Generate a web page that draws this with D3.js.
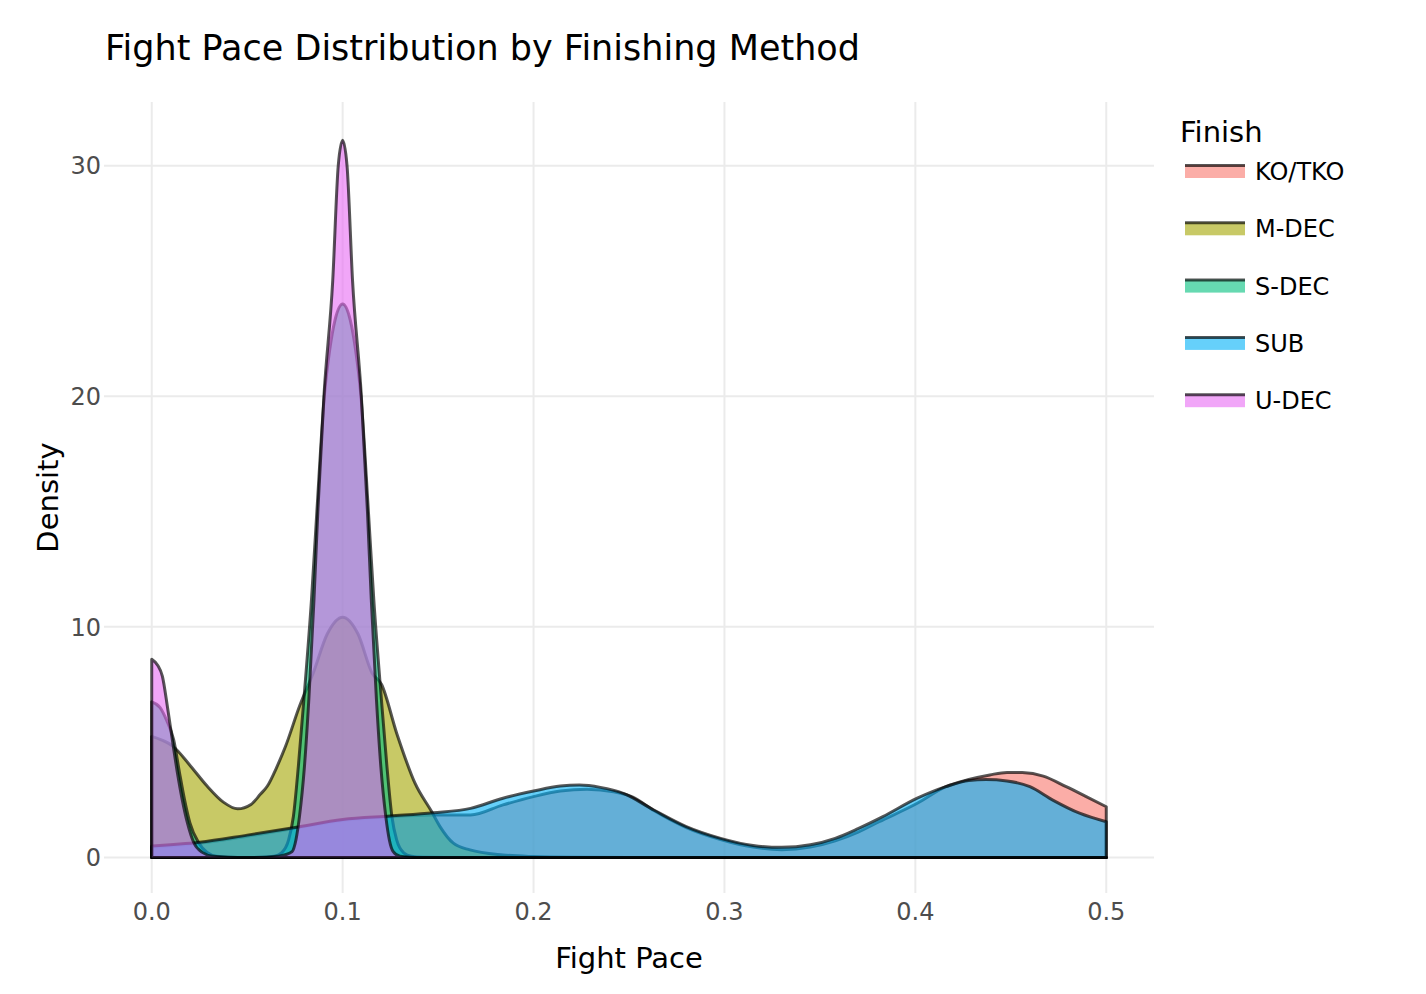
<!DOCTYPE html>
<html>
<head>
<meta charset="utf-8">
<script src="https://cdn.jsdelivr.net/npm/d3@7"></script>
<style>
  body { margin: 0; background: #fff; }
  svg { display: block; }
  text { font-family: Verdana, "DejaVu Sans", sans-serif; }
</style>
</head>
<body>
<script>
// finishing methods and ggplot hue colours
const finishLevels = ['KO/TKO', 'M-DEC', 'S-DEC', 'SUB', 'U-DEC'];
const finishColors = ['#F8766D', '#A3A500', '#00BF7D', '#00B0F6', '#E76BF3'];

const xTicks = [0, 0.1, 0.2, 0.3, 0.4, 0.5];
const xTickLabels = ['0.0', '0.1', '0.2', '0.3', '0.4', '0.5'];
const yTicks = [0, 10, 20, 30];
const yTickLabels = ['0', '10', '20', '30'];

// density curves
const koPace = [0, 0.025, 0.05, 0.075, 0.1, 0.125, 0.1475, 0.167, 0.184, 0.2, 0.214, 0.228, 0.242, 0.252, 0.263, 0.28, 0.298, 0.315, 0.33, 0.345, 0.358, 0.37, 0.381, 0.401, 0.416, 0.428, 0.439, 0.448, 0.456, 0.467, 0.479, 0.4895, 0.5];
const koDensity = [0.45, 0.62, 0.92, 1.27, 1.6, 1.76, 1.84, 1.84, 2.28, 2.64, 2.88, 2.96, 2.85, 2.62, 2.04, 1.3, 0.78, 0.45, 0.34, 0.45, 0.72, 1.1, 1.55, 2.35, 3.07, 3.38, 3.58, 3.69, 3.68, 3.53, 3.07, 2.64, 2.2];

const mdecPace = [0, 0.005, 0.011, 0.0204, 0.029, 0.0377, 0.045, 0.052, 0.057, 0.0606, 0.0654, 0.07, 0.0776, 0.0846, 0.092, 0.1, 0.108, 0.1154, 0.1204, 0.1283, 0.1379, 0.1466, 0.151, 0.158, 0.1667, 0.184, 0.2, 0.22, 0.25, 0.5];
const mdecDensity = [5.25, 5.1, 4.83, 3.96, 3.1, 2.39, 2.11, 2.3, 2.75, 3.1, 3.9, 4.8, 6.6, 8.0, 9.7, 10.42, 9.7, 8.0, 7.5, 5.39, 3.22, 1.99, 1.34, 0.62, 0.33, 0.11, 0.04, 0.01, 0, 0];

const sdecPace = [0, 0.0044, 0.0078, 0.0115, 0.0145, 0.0172, 0.02, 0.0245, 0.029, 0.034, 0.04, 0.05, 0.058, 0.064, 0.068, 0.0717, 0.0742, 0.0768, 0.0797, 0.0837, 0.0865, 0.0904, 0.0932, 0.096, 0.1, 0.104, 0.1068, 0.1096, 0.1135, 0.1163, 0.1203, 0.1232, 0.1258, 0.1283, 0.132, 0.136, 0.142, 0.16, 0.5];
const sdecDensity = [6.75, 6.5, 5.95, 5.1, 3.7, 2.5, 1.5, 0.65, 0.22, 0.05, 0.01, 0, 0.01, 0.05, 0.2, 0.76, 1.78, 3.95, 6.86, 11.2, 15, 20, 22, 23.3, 24, 23.3, 22, 20, 15, 11.2, 6.86, 3.95, 1.78, 0.76, 0.2, 0.05, 0.01, 0, 0];

const subPace = [0, 0.025, 0.05, 0.075, 0.1, 0.125, 0.1475, 0.167, 0.184, 0.2, 0.214, 0.224, 0.235, 0.247, 0.263, 0.28, 0.298, 0.315, 0.33, 0.345, 0.358, 0.37, 0.383, 0.401, 0.416, 0.428, 0.437, 0.448, 0.46, 0.472, 0.486, 0.5];
const subDensity = [0.5, 0.66, 0.97, 1.3, 1.65, 1.8, 1.94, 2.13, 2.57, 2.88, 3.1, 3.14, 3.04, 2.78, 2.06, 1.34, 0.83, 0.52, 0.44, 0.55, 0.83, 1.25, 1.77, 2.57, 3.07, 3.34, 3.38, 3.32, 3.07, 2.49, 1.92, 1.55];

const udecPace = [0, 0.003, 0.0056, 0.0082, 0.0108, 0.0134, 0.016, 0.0187, 0.022, 0.0265, 0.032, 0.04, 0.05, 0.06, 0.066, 0.07, 0.0735, 0.0755, 0.0774, 0.08, 0.0823, 0.085, 0.087, 0.0902, 0.0948, 0.0977, 0.1, 0.1023, 0.1052, 0.1098, 0.113, 0.115, 0.1177, 0.12, 0.1226, 0.1245, 0.1265, 0.13, 0.135, 0.14, 0.5];
const udecDensity = [8.6, 8.35, 7.85, 6.55, 5.1, 3.7, 2.5, 1.5, 0.65, 0.22, 0.05, 0.01, 0, 0.01, 0.05, 0.12, 0.25, 0.75, 1.78, 3.95, 6.86, 11.2, 15, 20, 25, 30, 31.1, 30, 25, 20, 15, 11.2, 6.86, 3.95, 1.78, 0.75, 0.25, 0.05, 0.01, 0, 0];

const paceSeries = [koPace, mdecPace, sdecPace, subPace, udecPace];
const densitySeries = [koDensity, mdecDensity, sdecDensity, subDensity, udecDensity];

const width = 1426, height = 994;
const plot = { left: 104, top: 102, right: 1154, bottom: 893 };
const outline = 'rgba(0,0,0,0.66)';

const svg = d3.select('body').append('svg')
	.attr('width', width)
	.attr('height', height);

const x = d3.scaleLinear().domain([-0.025, 0.525]).range([plot.left, plot.right]);
const y = d3.scaleLinear().domain([-1.54, 32.76]).range([plot.bottom, plot.top]);

// grid
svg.append('g')
	.selectAll('line')
	.data(xTicks)
	.enter().append('line')
	.attr('x1', d => x(d)).attr('x2', d => x(d))
	.attr('y1', plot.top).attr('y2', plot.bottom)
	.attr('stroke', '#ebebeb').attr('stroke-width', 2);

svg.append('g')
	.selectAll('line')
	.data(yTicks)
	.enter().append('line')
	.attr('x1', plot.left).attr('x2', plot.right)
	.attr('y1', d => y(d)).attr('y2', d => y(d))
	.attr('stroke', '#ebebeb').attr('stroke-width', 2);

// tick labels
svg.append('g')
	.selectAll('text')
	.data(xTicks)
	.enter().append('text')
	.attr('x', d => x(d))
	.attr('y', 920)
	.attr('text-anchor', 'middle')
	.style('font-size', '24px')
	.style('fill', '#4d4d4d')
	.text((d, i) => xTickLabels[i]);

svg.append('g')
	.selectAll('text')
	.data(yTicks)
	.enter().append('text')
	.attr('x', 101)
	.attr('y', d => y(d) + 8.7)
	.attr('text-anchor', 'end')
	.style('font-size', '24px')
	.style('fill', '#4d4d4d')
	.text((d, i) => yTickLabels[i]);

// density polygons
const area = d3.area()
	.x(d => x(d[0]))
	.y0(y(0))
	.y1(d => y(d[1]))
	.curve(d3.curveMonotoneX);

svg.append('g')
	.selectAll('path')
	.data(finishLevels)
	.enter().append('path')
	.attr('d', (d, i) => area(paceSeries[i].map((p, j) => [p, densitySeries[i][j]])) + 'Z')
	.attr('fill', (d, i) => finishColors[i])
	.attr('fill-opacity', 0.6)
	.attr('stroke', outline)
	.attr('stroke-width', 3)
	.attr('stroke-linejoin', 'round');

// titles
svg.append('text')
	.attr('x', 105).attr('y', 60)
	.style('font-size', '35px')
	.text('Fight Pace Distribution by Finishing Method');

svg.append('text')
	.attr('x', (plot.left + plot.right) / 2).attr('y', 968)
	.attr('text-anchor', 'middle')
	.style('font-size', '29px')
	.text('Fight Pace');

svg.append('text')
	.attr('transform', 'translate(58,' + (plot.top + plot.bottom) / 2 + ')rotate(-90)')
	.attr('text-anchor', 'middle')
	.style('font-size', '29px')
	.text('Density');

// legend
const legend = svg.append('g');
legend.append('text')
	.attr('x', 1180).attr('y', 142)
	.style('font-size', '29px')
	.text('Finish');

const item = legend.selectAll('g.item')
	.data(finishLevels)
	.enter().append('g')
	.attr('class', 'item')
	.attr('transform', (d, i) => 'translate(0,' + (i * 57.3) + ')');

item.append('rect')
	.attr('x', 1185).attr('y', 165)
	.attr('width', 60).attr('height', 13)
	.attr('fill', (d, i) => finishColors[i])
	.attr('fill-opacity', 0.6);

item.append('line')
	.attr('x1', 1185).attr('x2', 1245)
	.attr('y1', 165.5).attr('y2', 165.5)
	.attr('stroke', outline)
	.attr('stroke-width', 3);

item.append('text')
	.attr('x', 1255).attr('y', 180)
	.style('font-size', '24px')
	.text(d => d);
</script>
</body>
</html>
